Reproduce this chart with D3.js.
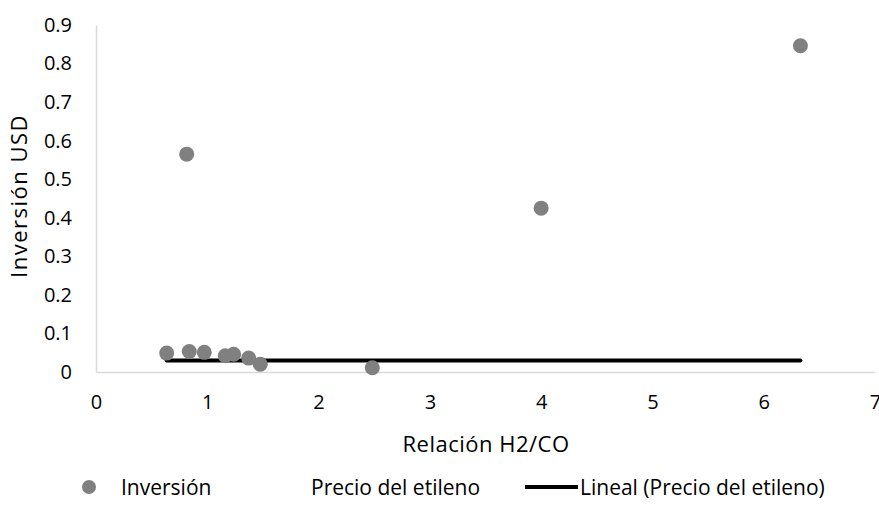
<!DOCTYPE html>
<html>
<head>
<meta charset="utf-8">
<script src="https://cdn.jsdelivr.net/npm/d3@7"></script>
<style>
  body { margin: 0; background: #fff; }
  svg text { font-family: "Open Sans", "Noto Sans", sans-serif; fill: #000; }
</style>
</head>
<body>
<svg id="chart" width="879" height="522"></svg>
<script>
// Inversión series (scatter)
const ratio = [0.635, 0.815, 0.838, 0.973, 1.162, 1.237, 1.372, 1.476, 2.483, 4.0, 6.33];
const inversion = [0.049, 0.565, 0.053, 0.051, 0.042, 0.046, 0.036, 0.020, 0.011, 0.425, 0.846];
// Precio del etileno (no markers, only its linear trendline is shown)
const precio = [0.03, 0.03, 0.03, 0.03, 0.03, 0.03, 0.03, 0.03, 0.03, 0.03, 0.03];
const xTicks = [0, 1, 2, 3, 4, 5, 6, 7];
const yTicks = [0, 0.1, 0.2, 0.3, 0.4, 0.5, 0.6, 0.7, 0.8, 0.9];
const legendLabels = ["Inversión", "Precio del etileno", "Lineal (Precio del etileno)"];

const svg = d3.select("#chart");
const margin = { left: 96, right: 4, top: 25, bottom: 150 },
      width = 879 - margin.left - margin.right,
      height = 522 - margin.top - margin.bottom;

const x = d3.scaleLinear().domain([0, 7]).range([0, width]);
const y = d3.scaleLinear().domain([0, 0.9]).range([height, 0]);

const chart = svg.append("g").attr("transform", `translate(${margin.left},${margin.top})`);

const xAxis = d3.axisBottom(x).tickValues(xTicks).tickSize(0).tickPadding(33).tickFormat(d3.format("d"));
const yAxis = d3.axisLeft(y).tickValues(yTicks).tickSize(0).tickPadding(24).tickFormat(d => d === 0 ? "0" : d3.format(".1f")(d));

chart.append("g").attr("transform", `translate(0,${height})`).call(xAxis)
  .call(g => g.select(".domain").attr("stroke", "#d9d9d9").attr("stroke-width", 1.5))
  .call(g => g.selectAll("text").attr("font-size", 20).attr("dy", "0.2em").attr("fill", "#000"));
chart.append("g").call(yAxis)
  .call(g => g.select(".domain").attr("stroke", "#d9d9d9").attr("stroke-width", 1.5))
  .call(g => g.selectAll("text").attr("font-size", 20).attr("fill", "#000"));

// linear trendline of precio
const mx = d3.mean(ratio), my = d3.mean(precio);
const slope = d3.sum(ratio, (d, i) => (d - mx) * (precio[i] - my)) / d3.sum(ratio, d => (d - mx) * (d - mx));
const icpt = my - slope * mx;
const ext = d3.extent(ratio);
chart.append("line")
  .attr("x1", x(ext[0])).attr("x2", x(ext[1]))
  .attr("y1", y(icpt + slope * ext[0])).attr("y2", y(icpt + slope * ext[1]))
  .attr("stroke", "#000").attr("stroke-width", 4).attr("stroke-linecap", "round");

chart.selectAll(".pt").data(ratio).enter().append("circle")
  .attr("class", "pt")
  .attr("cx", d => x(d))
  .attr("cy", (d, i) => y(inversion[i]))
  .attr("r", 7.5)
  .attr("fill", "#808080");

// axis titles
svg.append("text").attr("x", 486).attr("y", 452)
  .attr("text-anchor", "middle").attr("font-size", 22).attr("letter-spacing", 0.5).attr("fill", "#000")
  .text("Relación H2/CO");
svg.append("text").attr("transform", `translate(27,196) rotate(-90)`)
  .attr("text-anchor", "middle").attr("font-size", 22).attr("letter-spacing", 1.5).attr("fill", "#000")
  .text("Inversión USD");

// legend
const lg = svg.append("g").attr("transform", "translate(0,487)");
lg.append("circle").attr("cx", 89).attr("cy", 0).attr("r", 7).attr("fill", "#808080");
lg.append("text").attr("x", 121).attr("y", 8).attr("font-size", 21).attr("fill", "#000").text(legendLabels[0]);
lg.append("text").attr("x", 311).attr("y", 8).attr("font-size", 21).attr("fill", "#000").text(legendLabels[1]);
lg.append("line").attr("x1", 525).attr("x2", 578).attr("y1", 0).attr("y2", 0)
  .attr("stroke", "#000").attr("stroke-width", 4);
lg.append("text").attr("x", 580).attr("y", 8).attr("font-size", 21).attr("fill", "#000").text(legendLabels[2]);
</script>
</body>
</html>
